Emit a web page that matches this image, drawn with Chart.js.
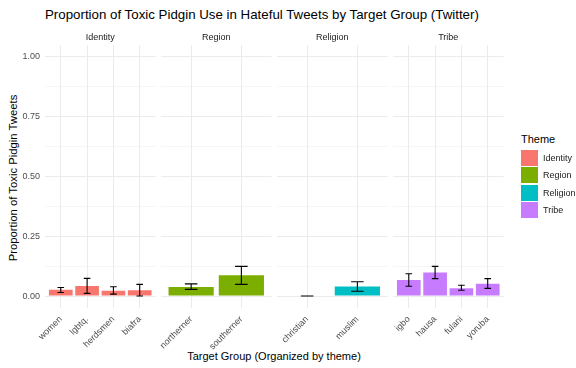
<!DOCTYPE html>
<html>
<head>
<meta charset="utf-8">
<script src="https://cdn.jsdelivr.net/npm/chart.js@4/dist/chart.umd.min.js"></script>
<style>
  body { margin: 0; background: #fff; }
  #wrap { position: relative; width: 576px; height: 368px; overflow: hidden;
          font-family: 'Liberation Sans', Arial, sans-serif; }
  #wrap canvas { position: absolute; left: 0; top: 0; }
  .txt { position: absolute; white-space: nowrap; line-height: 1; }
  .strip { position: absolute; top: 33px; width: 110.5px; text-align: center;
           font-size: 9px; line-height: 1; color: #1a1a1a; }
  .key { position: absolute; left: 521px; width: 17px; height: 16px; }
  .keylab { position: absolute; left: 543px; font-size: 9px; line-height: 1; color: #1a1a1a; }
</style>
</head>
<body>
<div id="wrap">
  <div class="txt" style="left:45px;top:8px;font-size:13.3px;color:#000">Proportion of Toxic Pidgin Use in Hateful Tweets by Target Group (Twitter)</div>
  <div class="txt" id="ytitle" style="left:14px;top:178px;font-size:11.3px;color:#000;transform:translate(-50%,-50%) rotate(-90deg)">Proportion of Toxic Pidgin Tweets</div>
  <div class="txt" style="left:274px;top:350.5px;font-size:11px;color:#000;transform:translateX(-50%)">Target Group (Organized by theme)</div>
  <div class="txt" style="left:521px;top:134px;font-size:11px;color:#000">Theme</div>
  <canvas id="facet0" width="576" height="368"></canvas>
  <canvas id="facet1" width="576" height="368"></canvas>
  <canvas id="facet2" width="576" height="368"></canvas>
  <canvas id="facet3" width="576" height="368"></canvas>
</div>
<script>
Chart.defaults.font.family = "'Liberation Sans', Arial, sans-serif"
Chart.defaults.font.size = 9
Chart.defaults.color = '#4d4d4d'

/* Dades */
const themes = ['Identity', 'Region', 'Religion', 'Tribe']
const themeColors = ['#F8766D', '#7CAE00', '#00BFC4', '#C77CFF']

const identityGroups = ['women', 'lgbtq.', 'herdsmen', 'biafra']
const identityProp = [0.026, 0.042, 0.022, 0.024]
const identityLow = [0.015, 0.011, 0.008, 0.000]
const identityHigh = [0.036, 0.074, 0.039, 0.049]

const regionGroups = ['northerner', 'southerner']
const regionProp = [0.038, 0.087]
const regionLow = [0.028, 0.049]
const regionHigh = [0.051, 0.124]

const religionGroups = ['christian', 'muslim']
const religionProp = [0.000, 0.040]
const religionLow = [0.000, 0.020]
const religionHigh = [0.000, 0.060]

const tribeGroups = ['igbo', 'hausa', 'fulani', 'yoruba']
const tribeProp = [0.067, 0.099, 0.033, 0.051]
const tribeLow = [0.041, 0.073, 0.024, 0.032]
const tribeHigh = [0.093, 0.124, 0.045, 0.073]

const yTicks = [0, 0.125, 0.25, 0.375, 0.5, 0.625, 0.75, 0.875, 1]

/* Posicions dels panells */
const panelLeft = [45, 161, 277, 393]
const panelWidth = 110.5
const panelTop = 45
const panelBottom = 308
const xAxisHeight = 50

const wrap = document.getElementById('wrap')

// strip labels + legend
themes.forEach((t, i) => {
    const s = document.createElement('div')
    s.className = 'strip'
    s.style.left = panelLeft[i] + 'px'
    s.textContent = t
    wrap.appendChild(s)

    const k = document.createElement('div')
    k.className = 'key'
    k.style.top = (150 + i * 17.3) + 'px'
    k.style.background = themeColors[i]
    wrap.appendChild(k)

    const l = document.createElement('div')
    l.className = 'keylab'
    l.style.top = (154 + i * 17.3) + 'px'
    l.textContent = t
    wrap.appendChild(l)
})

const makeErrorBars = (low, high) => ({
    id: 'errorBars',
    afterDatasetsDraw(chart) {
        const {ctx, scales: {x, y}} = chart
        const half = x.getPixelForValue(1.125) - x.getPixelForValue(1)
        ctx.save()
        ctx.strokeStyle = '#000'
        ctx.lineWidth = 1.1
        low.forEach((lo, i) => {
            const px = x.getPixelForValue(i + 1)
            const top = y.getPixelForValue(high[i])
            const bot = y.getPixelForValue(lo)
            ctx.beginPath()
            ctx.moveTo(px, top); ctx.lineTo(px, bot)
            ctx.moveTo(px - half, top); ctx.lineTo(px + half, top)
            ctx.moveTo(px - half, bot); ctx.lineTo(px + half, bot)
            ctx.stroke()
        })
        ctx.restore()
    }
})

const makeFacet = (idx, groups, prop, low, high) => {
    const first = idx === 0
    const left = panelLeft[idx]
    new Chart('facet' + idx, {
        type: 'bar',
        data: {
            datasets: [{
                data: groups.map((g, i) => ({x: i + 1, y: prop[i]})),
                backgroundColor: themeColors[idx],
                borderWidth: 0,
                barPercentage: 0.9,
                categoryPercentage: 1
            }]
        },
        options: {
            responsive: false,
            animation: false,
            layout: {padding: {left: first ? 0 : left, right: 576 - left - panelWidth,
                               top: panelTop, bottom: 368 - panelBottom - xAxisHeight}},
            plugins: {legend: {display: false}, tooltip: {enabled: false}},
            scales: {
                x: {
                    type: 'linear',
                    offset: false,
                    min: 0.4,
                    max: groups.length + 0.6,
                    afterBuildTicks: s => { s.ticks = groups.map((g, i) => ({value: i + 1})) },
                    afterFit: s => { s.height = xAxisHeight; s.paddingLeft = 0; s.paddingRight = 0 },
                    ticks: {autoSkip: false, minRotation: 45, maxRotation: 45, padding: 6,
                            callback: v => groups[v - 1]},
                    grid: {color: '#ebebeb', lineWidth: 1, drawTicks: false, offset: false},
                    border: {display: false}
                },
                y: {
                    min: -0.05,
                    max: 1.05,
                    afterBuildTicks: s => { s.ticks = yTicks.map(v => ({value: v})) },
                    afterFit: s => { s.width = first ? left : 0; s.paddingTop = 0; s.paddingBottom = 0 },
                    ticks: {display: first, padding: 5,
                            callback: v => (v % 0.25 === 0 ? v.toFixed(2) : '')},
                    grid: {color: '#ebebeb', drawTicks: false,
                           lineWidth: c => (c.tick && c.tick.value % 0.25 !== 0 ? 0.5 : 1)},
                    border: {display: false}
                }
            }
        },
        plugins: [makeErrorBars(low, high)]
    })
}

makeFacet(0, identityGroups, identityProp, identityLow, identityHigh)
makeFacet(1, regionGroups, regionProp, regionLow, regionHigh)
makeFacet(2, religionGroups, religionProp, religionLow, religionHigh)
makeFacet(3, tribeGroups, tribeProp, tribeLow, tribeHigh)
</script>
</body>
</html>
